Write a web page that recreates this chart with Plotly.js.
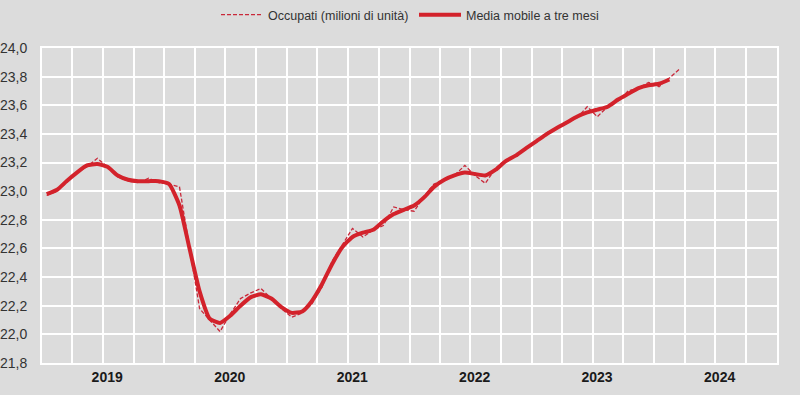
<!DOCTYPE html>
<html>
<head>
<meta charset="utf-8">
<script src="https://cdn.plot.ly/plotly-3.0.1.min.js"></script>
<style>
  html, body { margin: 0; padding: 0; background: #dcdcdc; }
  #chart { width: 800px; height: 395px; }
</style>
</head>
<body>
<div id="chart"></div>
<script>
// First month of the series and monthly values (milioni di unità)
const startYear = 2019;
const startMonth = 1;

const occupati = [
  22.97, 23.00, 23.06, 23.13, 23.17, 23.23, 23.17, 23.10, 23.07, 23.06, 23.09, 23.06,
  23.05, 23.03, 22.62, 22.18, 22.10, 22.02, 22.14, 22.25, 22.29, 22.32, 22.25, 22.18,
  22.12, 22.15, 22.21, 22.33, 22.51, 22.63, 22.74, 22.68, 22.73, 22.76, 22.89, 22.87,
  22.86, 22.97, 23.05, 23.08, 23.11, 23.18, 23.11, 23.055, 23.16, 23.22, 23.24, 23.30,
  23.35, 23.41, 23.44, 23.48, 23.51, 23.59, 23.52, 23.59, 23.63, 23.70, 23.72, 23.76,
  23.73, 23.79, 23.85
];

const mediaMobile = [
  22.98, 23.01, 23.07, 23.13, 23.18, 23.19, 23.17, 23.11, 23.08, 23.07, 23.07, 23.07,
  23.05, 22.90, 22.61, 22.30, 22.11, 22.08, 22.13, 22.20, 22.26, 22.28, 22.25, 22.19,
  22.15, 22.16, 22.23, 22.35, 22.49, 22.61, 22.68, 22.71, 22.73, 22.79, 22.84, 22.87,
  22.90, 22.96, 23.03, 23.08, 23.11, 23.13, 23.12, 23.11, 23.15, 23.21, 23.25, 23.30,
  23.35, 23.40, 23.44, 23.48, 23.52, 23.55, 23.57, 23.59, 23.64, 23.68, 23.72, 23.74,
  23.75, 23.78
];

const seriesNames = ['Occupati (milioni di unità)', 'Media mobile a tre mesi'];
const xRange = ['2019-01-01', '2025-01-01'];
const yRange = [21.8, 24.0];

function monthDates(n) {
  const out = [];
  for (let i = 0; i < n; i++) {
    const y = startYear + Math.floor((startMonth - 1 + i) / 12);
    const m = ((startMonth - 1 + i) % 12) + 1;
    out.push(y + '-' + String(m).padStart(2, '0') + '-15');
  }
  return out;
}

const red = '#d3222b';
const narrow = '"Liberation Sans Narrow", "Arial Narrow", "Liberation Sans", Arial, sans-serif';

const traces = [
  {
    x: monthDates(occupati.length), y: occupati, name: seriesNames[0],
    type: 'scatter', mode: 'lines',
    line: { color: '#c9283a', width: 1.3, dash: '4px,2px' }
  },
  {
    x: monthDates(mediaMobile.length), y: mediaMobile, name: seriesNames[1],
    type: 'scatter', mode: 'lines',
    line: { color: red, width: 4, shape: 'spline', smoothing: 0.5 }
  }
];

const layout = {
  width: 800, height: 395,
  paper_bgcolor: '#dcdcdc', plot_bgcolor: '#dcdcdc',
  separators: ',.',
  margin: { l: 42, r: 23, t: 48, b: 32 },
  font: { family: narrow, color: '#222' },
  showlegend: true,
  legend: {
    orientation: 'h', xref: 'container', yref: 'container',
    x: 0.27, xanchor: 'left', y: 1, yanchor: 'top',
    bgcolor: 'rgba(0,0,0,0)', borderwidth: 0,
    font: { family: narrow, size: 12.5, color: '#333' },
    itemwidth: 42, entrywidth: 141, traceorder: 'normal'
  },
  xaxis: {
    type: 'date', range: xRange,
    tick0: '2019-01-01', dtick: 'M12', tickformat: '%Y', ticklabelmode: 'period',
    showgrid: true, gridcolor: '#ffffff', gridwidth: 2,
    minor: { dtick: 'M3', showgrid: true, gridcolor: '#ffffff', gridwidth: 2 },
    showline: true, linecolor: '#ffffff', linewidth: 2, mirror: true,
    ticks: '', zeroline: false, fixedrange: true,
    ticklabelshift: 4,
    tickfont: { family: narrow, size: 14, color: '#1a1a1a', weight: 'bold' }
  },
  yaxis: {
    range: yRange, dtick: 0.2, tick0: 21.8, tickformat: '.1f',
    showgrid: true, gridcolor: '#ffffff', gridwidth: 2,
    showline: true, linecolor: '#ffffff', linewidth: 2, mirror: true,
    zeroline: false, ticks: '', ticklabelstandoff: 10, fixedrange: true,
    tickfont: { family: narrow, size: 14, color: '#333' }
  }
};

Plotly.newPlot('chart', traces, layout, { displayModeBar: false, staticPlot: true });
</script>
</body>
</html>
